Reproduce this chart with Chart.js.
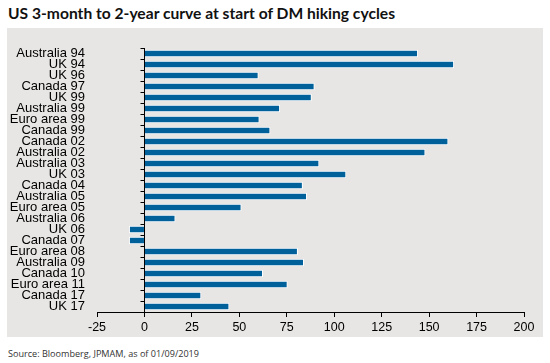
<!DOCTYPE html>
<html>
<head>
<meta charset="utf-8">
<script src="https://cdn.jsdelivr.net/npm/chart.js@4"></script>
<style>
html,body{margin:0;padding:0;background:#fff;width:550px;height:363px;overflow:hidden;}
#title{position:absolute;left:8px;top:3px;font-family:Lato,"Open Sans",sans-serif;font-weight:bold;font-size:16px;color:#111;white-space:nowrap;transform-origin:0 0;}
#box{position:absolute;left:7px;top:28px;width:536px;height:309px;background:#e7e6e4;}
#source{position:absolute;left:8px;top:347px;font-family:"Open Sans",Lato,sans-serif;font-size:9px;color:#333;white-space:nowrap;transform-origin:0 0;}
</style>
</head>
<body>
<div id="title">US 3-month to 2-year curve at start of DM hiking cycles</div>
<div id="box"><canvas id="c" width="536" height="309"></canvas></div>
<div id="source">Source: Bloomberg, JPMAM, as of 01/09/2019</div>
<script>
const categories = ['Australia 94','UK 94','UK 96','Canada 97','UK 99','Australia 99','Euro area 99','Canada 99','Canada 02','Australia 02','Australia 03','UK 03','Canada 04','Australia 05','Euro area 05','Australia 06','UK 06','Canada 07','Euro area 08','Australia 09','Canada 10','Euro area 11','Canada 17','UK 17'];
const curveValues = [144,163,60,89.5,88,71.3,60.5,66.2,160,147.9,92,106.2,83.3,85.5,51,16.2,-8,-8,80.7,83.9,62.3,75.3,29.8,44.6];
const xTickMin = -25, xTickMax = 200, xTickStep = 25;

function fitWidth(id, w){
  const el = document.getElementById(id);
  const r = el.getBoundingClientRect().width;
  el.style.transform = 'scaleX(' + (w / r) + ')';
}
fitWidth('title', 387);
fitWidth('source', 191);

const zeroTicks = {
  id:'zeroTicks',
  afterDatasetsDraw(chart){
    const x = chart.scales.x, y = chart.scales.y;
    const ctx = chart.ctx;
    const x0 = Math.round(x.getPixelForValue(0)) + 0.5;
    ctx.save();
    ctx.strokeStyle = '#000';
    ctx.lineWidth = 1;
    ctx.beginPath();
    for (let i = 0; i <= categories.length; i++){
      const yp = i < categories.length ? y.getPixelForValue(i) - (y.getPixelForValue(1) - y.getPixelForValue(0)) / 2
                                        : y.getPixelForValue(i - 1) + (y.getPixelForValue(1) - y.getPixelForValue(0)) / 2;
      const yy = Math.round(yp) + 0.5;
      ctx.moveTo(x0 - 4, yy);
      ctx.lineTo(x0, yy);
    }
    ctx.stroke();
    ctx.restore();
  }
};

new Chart(document.getElementById('c'), {
  type:'bar',
  data:{
    labels:categories,
    datasets:[{
      data:curveValues,
      backgroundColor:'#00609a',
      borderColor:'#ffffff',
      borderWidth:1,
      borderSkipped:'start',
      barThickness:7
    }]
  },
  options:{
    indexAxis:'y',
    responsive:false,
    animation:false,
    devicePixelRatio:1,
    layout:{padding:{top:20,right:19,bottom:0,left:0}},
    plugins:{legend:{display:false},tooltip:{enabled:false}},
    scales:{
      x:{
        min:xTickMin, max:xTickMax,
        ticks:{stepSize:xTickStep, color:'#000', padding:3, font:{family:'"Liberation Sans", Arial, sans-serif', size:12.5}},
        grid:{
          color:c => (c.tick && c.tick.value === 0) ? '#000' : 'rgba(0,0,0,0)',
          tickColor:'#000', tickLength:5, drawOnChartArea:true
        },
        border:{display:true, color:'#000'},
        afterFit:s => { s.height = 25; }
      },
      y:{
        ticks:{autoSkip:false, color:'#000', padding:4, font:{family:'"Liberation Sans", Arial, sans-serif', size:13}},
        grid:{display:false},
        border:{display:false},
        afterFit:s => { s.width = 90; }
      }
    }
  },
  plugins:[zeroTicks]
});
</script>
</body>
</html>
